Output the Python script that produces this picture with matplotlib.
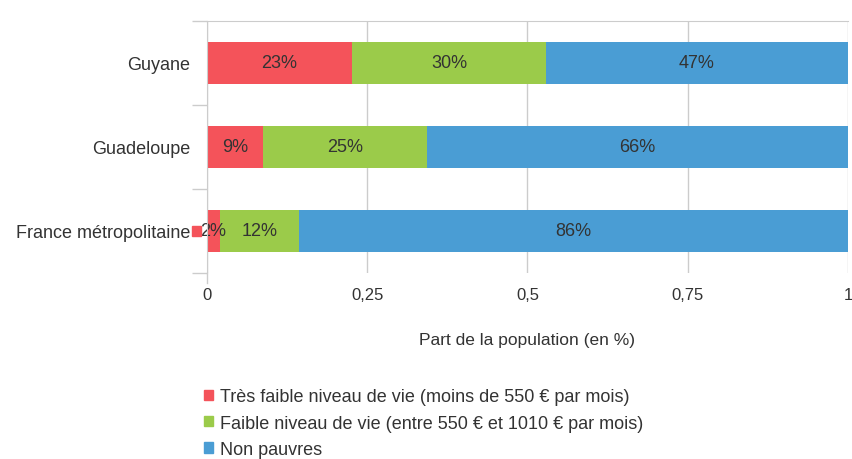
import matplotlib
matplotlib.use("Agg")
import matplotlib.pyplot as plt
from matplotlib.patches import Rectangle, Patch
import numpy as np

plt.rcParams['font.family'] = ['Liberation Sans', 'DejaVu Sans']

categories = ["France métropolitaine", "Guadeloupe", "Guyane"]
tres_faible = [0.02, 0.087, 0.226]
faible = [0.123, 0.256, 0.303]
non_pauvres = [0.857, 0.657, 0.471]
lab_tres_faible = ["2%", "9%", "23%"]
lab_faible = ["12%", "25%", "30%"]
lab_non_pauvres = ["86%", "66%", "47%"]
series_names = ["Très faible niveau de vie (moins de 550 € par mois)",
                "Faible niveau de vie (entre 550 € et 1010 € par mois)",
                "Non pauvres"]
xticks = [0, 0.25, 0.5, 0.75, 1]
xticklabels = ["0", "0,25", "0,5", "0,75", "1"]

colors = ["#F4535A", "#9BCB4A", "#4A9DD4"]
txt = "#333333"
grid = "#CCCCCC"

fig = plt.figure(figsize=(8.53, 4.6), dpi=100)
ax = fig.add_axes([207/853, 1-274/460, (848-207)/853, 252/460])

y = np.arange(len(categories))
left = np.zeros(len(categories))
series = [tres_faible, faible, non_pauvres]
labels = [lab_tres_faible, lab_faible, lab_non_pauvres]
for vals, labs, c, name in zip(series, labels, colors, series_names):
    vals = np.array(vals)
    ax.barh(y, vals, left=left, height=0.5, color=c, label=name, zorder=3)
    for yi, l, v, lab in zip(y, left, vals, labs):
        ax.text(l + v/2, yi, lab, ha='center', va='center', fontsize=13, color=txt, zorder=4)
    left = left + vals

ax.set_xlim(0, 1)
ax.set_ylim(-0.5, 2.5)
ax.set_xticks(xticks)
ax.set_xticklabels(xticklabels, fontsize=12, color=txt)
ax.tick_params(axis='x', length=0, pad=10)
ax.set_yticks(y)
ax.set_yticklabels(categories, fontsize=13, color=txt)
ax.tick_params(axis='y', which='major', length=0, pad=12)
ax.set_yticks([-0.5, 0.5, 1.5, 2.5], minor=True)
ax.tick_params(axis='y', which='minor', length=11, color=grid, width=1)
ax.grid(axis='x', color=grid, linewidth=1, zorder=0)
for s in ['right', 'bottom']:
    ax.spines[s].set_visible(False)
ax.spines['top'].set_color(grid)
ax.spines['left'].set_color(grid)
ax.spines['left'].set_zorder(5)
ax.plot([0, 0], [0, -10/252], transform=ax.transAxes, color=grid, lw=1, clip_on=False)

# stray legend-key square beside the France label
ax.add_patch(Rectangle((-0.023, -0.06), 0.014, 0.12, color=colors[0], clip_on=False, zorder=5))

ax.set_xlabel("Part de la population (en %)", fontsize=12.5, color=txt, labelpad=22)

handles = [Patch(color=c) for c in colors]
fig.legend(handles, series_names, loc='upper left', bbox_to_anchor=(197/853, 1-382/460),
           frameon=False, fontsize=13, labelcolor=txt, handlelength=0.5, handleheight=0.5,
           handletextpad=0.4, labelspacing=0.52, borderaxespad=0)

fig.savefig("out.png", dpi=100)
